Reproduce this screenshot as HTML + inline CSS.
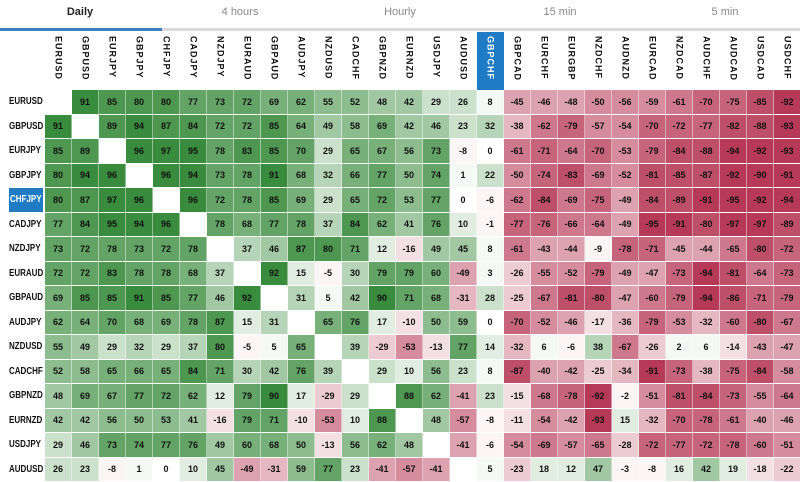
<!DOCTYPE html>
<html><head><meta charset="utf-8"><style>
*{margin:0;padding:0;box-sizing:border-box}
body{width:800px;height:480px;overflow:hidden;background:#fff;font-family:"Liberation Sans",Arial,sans-serif;position:relative}
.tab{position:absolute;top:6px;width:160px;text-align:center;font-size:11px;color:#888}
.tab.a{color:#222;font-weight:bold}
.line{position:absolute;top:28px;height:3px;background:#d9d9d9;left:0;width:800px}
.line b{position:absolute;left:0;top:0;height:3px;width:162px;background:#3a7dc0}
table{position:absolute;left:0;top:32px;border-collapse:separate;border-spacing:0;table-layout:fixed;width:801px}
td,th{width:27px;text-align:center;font-size:9px;font-weight:bold;color:#111;border-right:1px solid rgba(255,255,255,.45);border-bottom:1px solid #fff;height:24.5px;padding:0;overflow:hidden;white-space:nowrap}
th{height:58px;vertical-align:top;border:none;background:#fff}
th span{writing-mode:vertical-rl;font-size:9px;letter-spacing:1px;display:inline-block;padding-top:4px;color:#111}
th.sel{background:#1e7bc4}
th.sel span{color:#fff}
td.l{width:45px;text-align:left;padding-left:9px;font-size:10px;background:#fff}
td.l span{display:inline-block;transform:scaleX(0.8);transform-origin:left center}
td.l.s{background:linear-gradient(to right,#fff 9px,#1e7bc4 9px,#1e7bc4 43px,#fff 43px);color:#fff;padding-left:10px}
col.c0{width:45px}col.c{width:27px}
.p0{background:rgb(245,249,245)}.p1{background:rgb(224,237,224)}.p2{background:rgb(203,225,204)}.p3{background:rgb(182,212,183)}.p4{background:rgb(161,200,163)}.p5{background:rgb(141,188,142)}.p6{background:rgb(120,176,122)}.p7{background:rgb(99,164,102)}.p8{background:rgb(78,151,81)}.p9{background:rgb(57,139,61)}
.n0{background:rgb(251,245,246)}.n1{background:rgb(243,224,229)}.n2{background:rgb(236,203,211)}.n3{background:rgb(228,183,193)}.n4{background:rgb(220,162,176)}.n5{background:rgb(213,141,158)}.n6{background:rgb(205,120,141)}.n7{background:rgb(197,100,123)}.n8{background:rgb(190,79,105)}.n9{background:rgb(182,58,88)}
</style></head><body>
<div class="tab a" style="left:0">Daily</div>
<div class="tab" style="left:160px">4 hours</div>
<div class="tab" style="left:320px">Hourly</div>
<div class="tab" style="left:480px">15 min</div>
<div class="tab" style="left:645px">5 min</div>
<div class="line"><b></b></div>
<table>
<colgroup><col class="c0"><col class="c"><col class="c"><col class="c"><col class="c"><col class="c"><col class="c"><col class="c"><col class="c"><col class="c"><col class="c"><col class="c"><col class="c"><col class="c"><col class="c"><col class="c"><col class="c"><col class="c"><col class="c"><col class="c"><col class="c"><col class="c"><col class="c"><col class="c"><col class="c"><col class="c"><col class="c"><col class="c"><col class="c"></colgroup>
<tr><th style="width:45px"></th><th><span>EURUSD</span></th><th><span>GBPUSD</span></th><th><span>EURJPY</span></th><th><span>GBPJPY</span></th><th><span>CHFJPY</span></th><th><span>CADJPY</span></th><th><span>NZDJPY</span></th><th><span>EURAUD</span></th><th><span>GBPAUD</span></th><th><span>AUDJPY</span></th><th><span>NZDUSD</span></th><th><span>CADCHF</span></th><th><span>GBPNZD</span></th><th><span>EURNZD</span></th><th><span>USDJPY</span></th><th><span>AUDUSD</span></th><th class="sel"><span>GBPCHF</span></th><th><span>GBPCAD</span></th><th><span>EURCHF</span></th><th><span>EURGBP</span></th><th><span>NZDCHF</span></th><th><span>AUDNZD</span></th><th><span>EURCAD</span></th><th><span>NZDCAD</span></th><th><span>AUDCHF</span></th><th><span>AUDCAD</span></th><th><span>USDCAD</span></th><th><span>USDCHF</span></th></tr>
<tr><td class="l"><span>EURUSD</span></td><td></td><td class=p9>91</td><td class=p8>85</td><td class=p8>80</td><td class=p8>80</td><td class=p7>77</td><td class=p7>73</td><td class=p7>72</td><td class=p6>69</td><td class=p6>62</td><td class=p5>55</td><td class=p5>52</td><td class=p4>48</td><td class=p4>42</td><td class=p2>29</td><td class=p2>26</td><td class=p0>8</td><td class=n4>-45</td><td class=n4>-46</td><td class=n4>-48</td><td class=n5>-50</td><td class=n5>-56</td><td class=n5>-59</td><td class=n6>-61</td><td class=n7>-70</td><td class=n7>-75</td><td class=n8>-85</td><td class=n9>-92</td></tr>
<tr><td class="l"><span>GBPUSD</span></td><td class=p9>91</td><td></td><td class=p8>89</td><td class=p9>94</td><td class=p8>87</td><td class=p8>84</td><td class=p7>72</td><td class=p7>72</td><td class=p8>85</td><td class=p6>64</td><td class=p4>49</td><td class=p5>58</td><td class=p6>69</td><td class=p4>42</td><td class=p4>46</td><td class=p2>23</td><td class=p3>32</td><td class=n3>-38</td><td class=n6>-62</td><td class=n7>-79</td><td class=n5>-57</td><td class=n5>-54</td><td class=n7>-70</td><td class=n7>-72</td><td class=n7>-77</td><td class=n8>-82</td><td class=n8>-88</td><td class=n9>-93</td></tr>
<tr><td class="l"><span>EURJPY</span></td><td class=p8>85</td><td class=p8>89</td><td></td><td class=p9>96</td><td class=p9>97</td><td class=p9>95</td><td class=p7>78</td><td class=p8>83</td><td class=p8>85</td><td class=p7>70</td><td class=p2>29</td><td class=p6>65</td><td class=p6>67</td><td class=p5>56</td><td class=p7>73</td><td class=n0>-8</td><td style="background:#fff">0</td><td class=n6>-61</td><td class=n7>-71</td><td class=n6>-64</td><td class=n7>-70</td><td class=n5>-53</td><td class=n7>-79</td><td class=n8>-84</td><td class=n8>-88</td><td class=n9>-94</td><td class=n9>-92</td><td class=n9>-93</td></tr>
<tr><td class="l"><span>GBPJPY</span></td><td class=p8>80</td><td class=p9>94</td><td class=p9>96</td><td></td><td class=p9>96</td><td class=p9>94</td><td class=p7>73</td><td class=p7>78</td><td class=p9>91</td><td class=p6>68</td><td class=p3>32</td><td class=p6>66</td><td class=p7>77</td><td class=p5>50</td><td class=p7>74</td><td class=p0>1</td><td class=p2>22</td><td class=n5>-50</td><td class=n7>-74</td><td class=n8>-83</td><td class=n6>-69</td><td class=n5>-52</td><td class=n8>-81</td><td class=n8>-85</td><td class=n8>-87</td><td class=n9>-92</td><td class=n9>-90</td><td class=n9>-91</td></tr>
<tr><td class="l s"><span>CHFJPY</span></td><td class=p8>80</td><td class=p8>87</td><td class=p9>97</td><td class=p9>96</td><td></td><td class=p9>96</td><td class=p7>72</td><td class=p7>78</td><td class=p8>85</td><td class=p6>69</td><td class=p2>29</td><td class=p6>65</td><td class=p7>72</td><td class=p5>53</td><td class=p7>77</td><td style="background:#fff">0</td><td class=n0>-6</td><td class=n6>-62</td><td class=n8>-84</td><td class=n6>-69</td><td class=n7>-75</td><td class=n4>-49</td><td class=n8>-84</td><td class=n8>-89</td><td class=n9>-91</td><td class=n9>-95</td><td class=n9>-92</td><td class=n9>-94</td></tr>
<tr><td class="l"><span>CADJPY</span></td><td class=p7>77</td><td class=p8>84</td><td class=p9>95</td><td class=p9>94</td><td class=p9>96</td><td></td><td class=p7>78</td><td class=p6>68</td><td class=p7>77</td><td class=p7>78</td><td class=p3>37</td><td class=p8>84</td><td class=p6>62</td><td class=p4>41</td><td class=p7>76</td><td class=p1>10</td><td class=n0>-1</td><td class=n7>-77</td><td class=n7>-76</td><td class=n6>-66</td><td class=n6>-64</td><td class=n4>-49</td><td class=n9>-95</td><td class=n9>-91</td><td class=n8>-80</td><td class=n9>-97</td><td class=n9>-97</td><td class=n8>-89</td></tr>
<tr><td class="l"><span>NZDJPY</span></td><td class=p7>73</td><td class=p7>72</td><td class=p7>78</td><td class=p7>73</td><td class=p7>72</td><td class=p7>78</td><td></td><td class=p3>37</td><td class=p4>46</td><td class=p8>87</td><td class=p8>80</td><td class=p7>71</td><td class=p1>12</td><td class=n1>-16</td><td class=p4>49</td><td class=p4>45</td><td class=p0>8</td><td class=n6>-61</td><td class=n4>-43</td><td class=n4>-44</td><td class=n0>-9</td><td class=n7>-78</td><td class=n7>-71</td><td class=n4>-45</td><td class=n4>-44</td><td class=n6>-65</td><td class=n8>-80</td><td class=n7>-72</td></tr>
<tr><td class="l"><span>EURAUD</span></td><td class=p7>72</td><td class=p7>72</td><td class=p8>83</td><td class=p7>78</td><td class=p7>78</td><td class=p6>68</td><td class=p3>37</td><td></td><td class=p9>92</td><td class=p1>15</td><td class=n0>-5</td><td class=p3>30</td><td class=p7>79</td><td class=p7>79</td><td class=p6>60</td><td class=n4>-49</td><td class=p0>3</td><td class=n2>-26</td><td class=n5>-55</td><td class=n5>-52</td><td class=n7>-79</td><td class=n4>-49</td><td class=n4>-47</td><td class=n7>-73</td><td class=n9>-94</td><td class=n8>-81</td><td class=n6>-64</td><td class=n7>-73</td></tr>
<tr><td class="l"><span>GBPAUD</span></td><td class=p6>69</td><td class=p8>85</td><td class=p8>85</td><td class=p9>91</td><td class=p8>85</td><td class=p7>77</td><td class=p4>46</td><td class=p9>92</td><td></td><td class=p3>31</td><td class=p0>5</td><td class=p4>42</td><td class=p9>90</td><td class=p7>71</td><td class=p6>68</td><td class=n3>-31</td><td class=p2>28</td><td class=n2>-25</td><td class=n6>-67</td><td class=n8>-81</td><td class=n8>-80</td><td class=n4>-47</td><td class=n6>-60</td><td class=n7>-79</td><td class=n9>-94</td><td class=n8>-86</td><td class=n7>-71</td><td class=n7>-79</td></tr>
<tr><td class="l"><span>AUDJPY</span></td><td class=p6>62</td><td class=p6>64</td><td class=p7>70</td><td class=p6>68</td><td class=p6>69</td><td class=p7>78</td><td class=p8>87</td><td class=p1>15</td><td class=p3>31</td><td></td><td class=p6>65</td><td class=p7>76</td><td class=p1>17</td><td class=n1>-10</td><td class=p5>50</td><td class=p5>59</td><td style="background:#fff">0</td><td class=n7>-70</td><td class=n5>-52</td><td class=n4>-46</td><td class=n1>-17</td><td class=n3>-36</td><td class=n7>-79</td><td class=n5>-53</td><td class=n3>-32</td><td class=n6>-60</td><td class=n8>-80</td><td class=n6>-67</td></tr>
<tr><td class="l"><span>NZDUSD</span></td><td class=p5>55</td><td class=p4>49</td><td class=p2>29</td><td class=p3>32</td><td class=p2>29</td><td class=p3>37</td><td class=p8>80</td><td class=n0>-5</td><td class=p0>5</td><td class=p6>65</td><td></td><td class=p3>39</td><td class=n2>-29</td><td class=n5>-53</td><td class=n1>-13</td><td class=p7>77</td><td class=p1>14</td><td class=n3>-32</td><td class=p0>6</td><td class=n0>-6</td><td class=p3>38</td><td class=n6>-67</td><td class=n2>-26</td><td class=p0>2</td><td class=p0>6</td><td class=n1>-14</td><td class=n4>-43</td><td class=n4>-47</td></tr>
<tr><td class="l"><span>CADCHF</span></td><td class=p5>52</td><td class=p5>58</td><td class=p6>65</td><td class=p6>66</td><td class=p6>65</td><td class=p8>84</td><td class=p7>71</td><td class=p3>30</td><td class=p4>42</td><td class=p7>76</td><td class=p3>39</td><td></td><td class=p2>29</td><td class=p1>10</td><td class=p5>56</td><td class=p2>23</td><td class=p0>8</td><td class=n8>-87</td><td class=n4>-40</td><td class=n4>-42</td><td class=n2>-25</td><td class=n3>-34</td><td class=n9>-91</td><td class=n7>-73</td><td class=n3>-38</td><td class=n7>-75</td><td class=n8>-84</td><td class=n5>-58</td></tr>
<tr><td class="l"><span>GBPNZD</span></td><td class=p4>48</td><td class=p6>69</td><td class=p6>67</td><td class=p7>77</td><td class=p7>72</td><td class=p6>62</td><td class=p1>12</td><td class=p7>79</td><td class=p9>90</td><td class=p1>17</td><td class=n2>-29</td><td class=p2>29</td><td></td><td class=p8>88</td><td class=p6>62</td><td class=n4>-41</td><td class=p2>23</td><td class=n1>-15</td><td class=n6>-68</td><td class=n7>-78</td><td class=n9>-92</td><td class=n0>-2</td><td class=n5>-51</td><td class=n8>-81</td><td class=n8>-84</td><td class=n7>-73</td><td class=n5>-55</td><td class=n6>-64</td></tr>
<tr><td class="l"><span>EURNZD</span></td><td class=p4>42</td><td class=p4>42</td><td class=p5>56</td><td class=p5>50</td><td class=p5>53</td><td class=p4>41</td><td class=n1>-16</td><td class=p7>79</td><td class=p7>71</td><td class=n1>-10</td><td class=n5>-53</td><td class=p1>10</td><td class=p8>88</td><td></td><td class=p4>48</td><td class=n5>-57</td><td class=n0>-8</td><td class=n1>-11</td><td class=n5>-54</td><td class=n4>-42</td><td class=n9>-93</td><td class=p1>15</td><td class=n3>-32</td><td class=n7>-70</td><td class=n7>-78</td><td class=n6>-61</td><td class=n4>-40</td><td class=n4>-46</td></tr>
<tr><td class="l"><span>USDJPY</span></td><td class=p2>29</td><td class=p4>46</td><td class=p7>73</td><td class=p7>74</td><td class=p7>77</td><td class=p7>76</td><td class=p4>49</td><td class=p6>60</td><td class=p6>68</td><td class=p5>50</td><td class=n1>-13</td><td class=p5>56</td><td class=p6>62</td><td class=p4>48</td><td></td><td class=n4>-41</td><td class=n0>-6</td><td class=n5>-54</td><td class=n6>-69</td><td class=n5>-57</td><td class=n6>-65</td><td class=n2>-28</td><td class=n7>-72</td><td class=n7>-77</td><td class=n7>-72</td><td class=n7>-78</td><td class=n6>-60</td><td class=n5>-51</td></tr>
<tr><td class="l"><span>AUDUSD</span></td><td class=p2>26</td><td class=p2>23</td><td class=n0>-8</td><td class=p0>1</td><td style="background:#fff">0</td><td class=p1>10</td><td class=p4>45</td><td class=n4>-49</td><td class=n3>-31</td><td class=p5>59</td><td class=p7>77</td><td class=p2>23</td><td class=n4>-41</td><td class=n5>-57</td><td class=n4>-41</td><td></td><td class=p0>5</td><td class=n2>-23</td><td class=p1>18</td><td class=p1>12</td><td class=p4>47</td><td class=n0>-3</td><td class=n0>-8</td><td class=p1>16</td><td class=p4>42</td><td class=p1>19</td><td class=n1>-18</td><td class=n2>-22</td></tr>
</table>
</body></html>
